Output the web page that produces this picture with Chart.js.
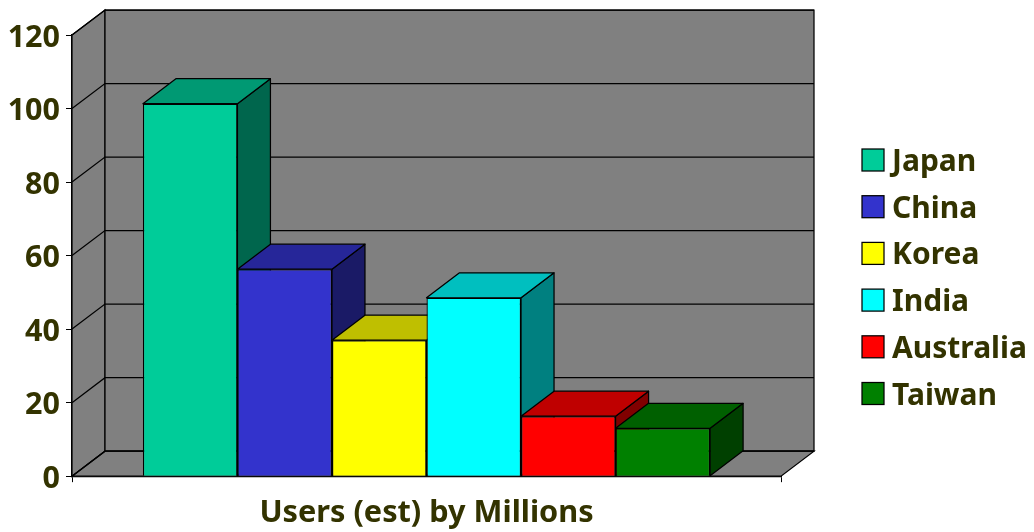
<!DOCTYPE html>
<html>
<head>
<meta charset="utf-8">
<script src="https://cdn.jsdelivr.net/npm/chart.js@4"></script>
<style>
    html, body { margin: 0; padding: 0; background: #fff; }
    canvas { display: block; }
</style>
</head>
<body>
<canvas id="chart" width="1034" height="532"></canvas>
<script>
const categories = ['Users (est) by Millions'];
const countries = ['Japan', 'China', 'Korea', 'India', 'Australia', 'Taiwan'];
const users = [101.3, 56.3, 37, 48.5, 16.3, 13];
const frontColors = ['#00cc99', '#3333cc', '#ffff00', '#00ffff', '#ff0000', '#008000'];
const topColors = ['#009973', '#262699', '#bfbf00', '#00bfbf', '#bf0000', '#006000'];
const sideColors = ['#00664d', '#1a1a66', '#808000', '#008080', '#800000', '#004000'];
const gridValues = [0, 20, 40, 60, 80, 100, 120];

const depthX = 33;
const depthY = -25;
const lineW = 1.25;
const textColor = '#333300';
const fontFamily = '"Noto Sans", sans-serif';

function poly(ctx, pts, fill) {
    ctx.beginPath();
    ctx.moveTo(pts[0][0], pts[0][1]);
    pts.slice(1).forEach((p) => ctx.lineTo(p[0], p[1]));
    ctx.closePath();
    ctx.fillStyle = fill;
    ctx.fill();
    ctx.stroke();
}

// Chart.js has no 3D bars, so the walls and the bar tops/sides are added here.
const box3d = {
    id: 'box3d',
    beforeDatasetsDraw(chart) {
        const ctx = chart.ctx;
        const { left, right, top, bottom } = chart.chartArea;
        ctx.save();
        ctx.strokeStyle = '#000';
        ctx.lineWidth = lineW;
        poly(ctx, [[left, top], [left + depthX, top + depthY], [left + depthX, bottom + depthY], [left, bottom]], '#808080');
        poly(ctx, [[left + depthX, top + depthY], [right + depthX, top + depthY], [right + depthX, bottom + depthY], [left + depthX, bottom + depthY]], '#808080');
        poly(ctx, [[left, bottom], [left + depthX, bottom + depthY], [right + depthX, bottom + depthY], [right, bottom]], '#808080');
        gridValues.forEach((v) => {
            const y = chart.scales.y.getPixelForValue(v);
            ctx.beginPath();
            ctx.moveTo(left, y);
            ctx.lineTo(left + depthX, y + depthY);
            ctx.lineTo(right + depthX, y + depthY);
            ctx.stroke();
        });
        ctx.restore();
    },
    // default painting goes last dataset first; the left bars must be under their neighbours
    beforeDatasetDraw() {
        return false;
    },
    afterDatasetsDraw(chart) {
        const ctx = chart.ctx;
        countries.forEach((name, i) => {
            const bar = chart.getDatasetMeta(i).data[0];
            const l = bar.x - bar.width / 2;
            const r = bar.x + bar.width / 2;
            bar.draw(ctx);
            ctx.save();
            ctx.strokeStyle = '#000';
            ctx.lineWidth = lineW;
            ctx.lineJoin = 'round';
            poly(ctx, [[r, bar.y], [r + depthX, bar.y + depthY], [r + depthX, bar.base + depthY], [r, bar.base]], sideColors[i]);
            poly(ctx, [[l, bar.y], [l + depthX, bar.y + depthY], [r + depthX, bar.y + depthY], [r, bar.y]], topColors[i]);
            ctx.restore();
        });
    }
};

// The built-in legend puts its text too far from the box, so it is drawn here.
const sideLegend = {
    id: 'sideLegend',
    afterDraw(chart) {
        const ctx = chart.ctx;
        ctx.save();
        ctx.font = 'bold 30px ' + fontFamily;
        ctx.textBaseline = 'alphabetic';
        countries.forEach((name, i) => {
            const y = 149 + i * 46.7;
            ctx.fillStyle = frontColors[i];
            ctx.strokeStyle = '#000';
            ctx.lineWidth = lineW;
            ctx.fillRect(862, y, 22, 22);
            ctx.strokeRect(862, y, 22, 22);
            ctx.fillStyle = textColor;
            ctx.fillText(name, 892, y + 22);
        });
        ctx.restore();
    }
};

new Chart(document.getElementById('chart'), {
    type: 'bar',
    data: {
        labels: categories,
        datasets: countries.map((name, i) => ({
            label: name,
            data: [users[i]],
            backgroundColor: frontColors[i],
            borderColor: '#000',
            borderWidth: lineW
        }))
    },
    options: {
        responsive: false,
        animation: false,
        categoryPercentage: 0.8,
        barPercentage: 1,
        layout: { padding: { top: 35, right: 253, bottom: 0, left: 0 } },
        scales: {
            x: {
                border: { color: '#000', width: lineW },
                grid: { drawOnChartArea: false, color: '#000', tickLength: 6 },
                ticks: { display: false },
                title: {
                    display: true,
                    text: categories[0],
                    color: textColor,
                    font: { family: fontFamily, size: 30.7, weight: 'bold' },
                    padding: { top: 13, bottom: 0 }
                }
            },
            y: {
                min: 0,
                max: 120,
                afterBuildTicks(axis) {
                    axis.ticks = gridValues.map((value) => ({ value }));
                },
                afterFit(axis) { axis.width = 72; },
                border: { color: '#000', width: lineW },
                grid: { drawOnChartArea: false, color: '#000', tickLength: 6 },
                ticks: {
                    color: textColor,
                    padding: 6,
                    labelOffset: 3,
                    font: { family: fontFamily, size: 30.5, weight: 'bold' }
                }
            }
        },
        plugins: {
            tooltip: { enabled: false },
            legend: { display: false }
        }
    },
    plugins: [box3d, sideLegend]
});
</script>
</body>
</html>
